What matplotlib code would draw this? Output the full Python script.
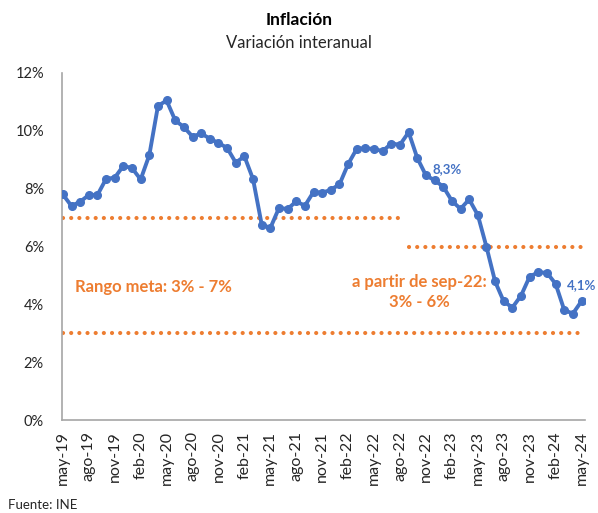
import matplotlib
matplotlib.use("Agg")
import matplotlib.pyplot as plt

months = ["may-19","jun-19","jul-19","ago-19","sep-19","oct-19","nov-19","dic-19",
          "ene-20","feb-20","mar-20","abr-20","may-20","jun-20","jul-20","ago-20","sep-20","oct-20","nov-20","dic-20",
          "ene-21","feb-21","mar-21","abr-21","may-21","jun-21","jul-21","ago-21","sep-21","oct-21","nov-21","dic-21",
          "ene-22","feb-22","mar-22","abr-22","may-22","jun-22","jul-22","ago-22","sep-22","oct-22","nov-22","dic-22",
          "ene-23","feb-23","mar-23","abr-23","may-23","jun-23","jul-23","ago-23","sep-23","oct-23","nov-23","dic-23",
          "ene-24","feb-24","mar-24","abr-24","may-24"]
inflation = [7.80, 7.40, 7.55, 7.78, 7.78, 8.34, 8.38, 8.79,
             8.71, 8.32, 9.16, 10.86, 11.05, 10.36, 10.13, 9.80, 9.91, 9.73, 9.58, 9.41,
             8.90, 9.12, 8.33, 6.76, 6.64, 7.33, 7.30, 7.56, 7.41, 7.89, 7.86, 7.96,
             8.15, 8.85, 9.38, 9.40, 9.37, 9.30, 9.56, 9.52, 9.95, 9.06, 8.46, 8.29,
             8.07, 7.58, 7.30, 7.63, 7.09, 5.99, 4.79, 4.10, 3.89, 4.30, 4.96, 5.11,
             5.09, 4.71, 3.80, 3.68, 4.11]
old_target_upper = 7
new_target_upper = 6
target_lower = 3
yticks = [0, 2, 4, 6, 8, 10, 12]

BLUE = "#4472C4"
ORANGE = "#ED7D31"

plt.rcParams['font.family'] = ['Lato', 'DejaVu Sans']

fig = plt.figure(figsize=(5.98, 5.13), dpi=100)
ax = fig.add_axes([62/598, 1-420/513, (585-62)/598, (420-73)/513])

x = list(range(len(months)))
i_sep22 = months.index("sep-22")
i_ago22 = months.index("ago-22")

dot = dict(color=ORANGE, lw=3, linestyle=(0, (0.01, 1.95)), dash_capstyle='round', solid_capstyle='round')
ax.plot([0, i_ago22], [old_target_upper]*2, **dot)
ax.plot([i_sep22, len(months)-1], [new_target_upper]*2, **dot)
ax.plot([0, len(months)-1], [target_lower]*2, **dot)

ax.plot(x, inflation, color=BLUE, lw=2.8, marker='o', markersize=5.5, zorder=3)

ax.set_xlim(-0.1, 60.4)
ax.set_ylim(0, 12)
ax.set_yticks(yticks)
ax.set_yticklabels([f"{v}%" for v in yticks])
ax.set_xticks(x[::3])
ax.set_xticklabels(months[::3], rotation=90)
ax.tick_params(axis='y', length=0, labelsize=10.5, colors='#262626', pad=13)
ax.tick_params(axis='x', length=0, labelsize=11.5, colors='#262626', pad=8)
for s in ['top', 'right']:
    ax.spines[s].set_visible(False)
for s in ['left', 'bottom']:
    ax.spines[s].set_color('#A6A6A6')
    ax.spines[s].set_linewidth(1.2)

ax.text(1.4, 4.6, "Rango meta: 3% - 7%", color=ORANGE, fontsize=12, fontweight='bold', va='center')
ax.text(41.2, 4.43, "a partir de sep-22:\n3% - 6%", color=ORANGE, fontsize=12, fontweight='bold',
        ha='center', va='center', linespacing=1.25)
i_dic22 = months.index("dic-22")
ax.annotate(f"{inflation[i_dic22]:.1f}%".replace('.', ','), (i_dic22, inflation[i_dic22]),
            xytext=(-1.3, 8), textcoords='offset points', color=BLUE, fontsize=9.5, fontweight='bold',
            va='center')
ax.annotate(f"{inflation[-1]:.1f}%".replace('.', ','), (len(months)-1, inflation[-1]),
            xytext=(-10.5, 11.5), textcoords='offset points', color=BLUE, fontsize=9.5, fontweight='bold',
            va='center', annotation_clip=False)

fig.text(0.5, 1-20/513, "Inflación", ha='center', va='center', fontsize=12.5, fontweight='bold', color='black')
fig.text(0.5, 1-43/513, "Variación interanual", ha='center', va='center', fontsize=12, color='#262626')
fig.text(8/598, 1-505/513, "Fuente: INE", ha='left', va='center', fontsize=9.5, color='#262626')

fig.savefig("out.png", dpi=100)
